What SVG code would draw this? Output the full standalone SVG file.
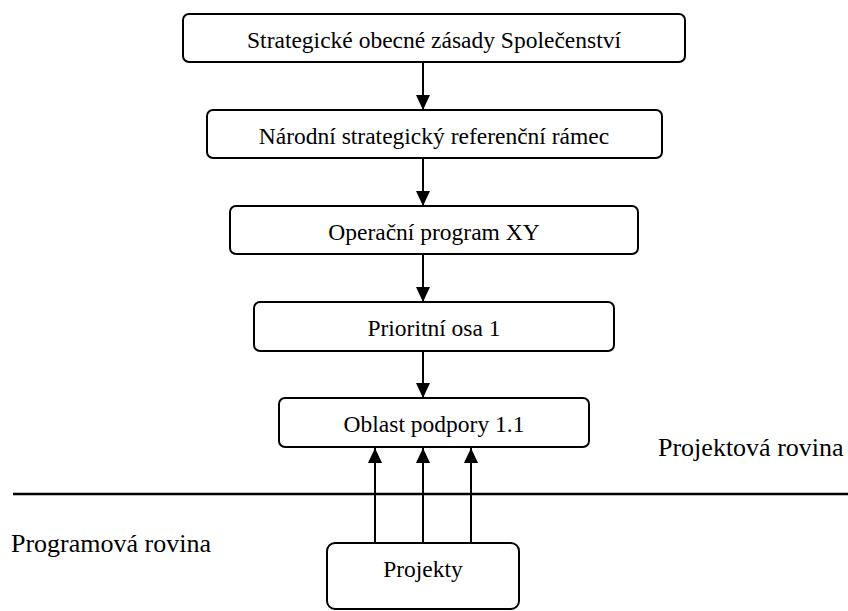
<svg xmlns="http://www.w3.org/2000/svg" width="848" height="611" viewBox="0 0 848 611">
<style>
.box{fill:#fff;stroke:#000;stroke-width:2}
.t{font-family:"Liberation Serif","Times New Roman",serif;font-size:23.5px;fill:#000;text-anchor:middle}
.lbl{font-family:"Liberation Serif","Times New Roman",serif;font-size:26px;fill:#000}
.c{stroke:#000;stroke-width:2;fill:none}
</style>
<defs>
<marker id="ah" markerWidth="15" markerHeight="14" viewBox="0 0 15 14" refX="15" refY="7" orient="auto" markerUnits="userSpaceOnUse">
<path d="M0,0 L15,7 L0,14 Z" fill="#000"/>
</marker>
</defs>
<rect width="848" height="611" fill="#fff"/>
<g id="connectors">
<line class="c" x1="423" y1="62" x2="423" y2="110" marker-end="url(#ah)"/>
<line class="c" x1="423" y1="158" x2="423" y2="206" marker-end="url(#ah)"/>
<line class="c" x1="423" y1="254" x2="423" y2="302" marker-end="url(#ah)"/>
<line class="c" x1="423" y1="351" x2="423" y2="398" marker-end="url(#ah)"/>
<line class="c" x1="375" y1="543" x2="375" y2="448" marker-end="url(#ah)"/>
<line class="c" x1="423" y1="543" x2="423" y2="448" marker-end="url(#ah)"/>
<line class="c" x1="471" y1="543" x2="471" y2="448" marker-end="url(#ah)"/>
</g>
<g id="divider">
<line x1="13" y1="494" x2="848" y2="494" stroke="#000" stroke-width="2.5"/>
</g>
<g id="n1"><rect class="box" x="183" y="14" width="502" height="48" rx="6"/><text class="t" x="434" y="47.5">Strategické obecné zásady Společenství</text></g>
<g id="n2"><rect class="box" x="207" y="110" width="455" height="48" rx="6"/><text class="t" x="434" y="143.5">Národní strategický referenční rámec</text></g>
<g id="n3"><rect class="box" x="230" y="206" width="408" height="48" rx="6"/><text class="t" x="434" y="239.5">Operační program XY</text></g>
<g id="n4"><rect class="box" x="254" y="302" width="360" height="49" rx="6"/><text class="t" x="434" y="336">Prioritní osa 1</text></g>
<g id="n5"><rect class="box" x="279" y="398" width="310" height="49" rx="6"/><text class="t" x="434" y="432">Oblast podpory 1.1</text></g>
<g id="n6"><rect class="box" x="327" y="543" width="192" height="66" rx="8"/><text class="t" x="423" y="577">Projekty</text></g>
<g id="labels">
<text class="lbl" x="658" y="456">Projektová rovina</text>
<text class="lbl" x="11" y="552">Programová rovina</text>
</g>
</svg>
